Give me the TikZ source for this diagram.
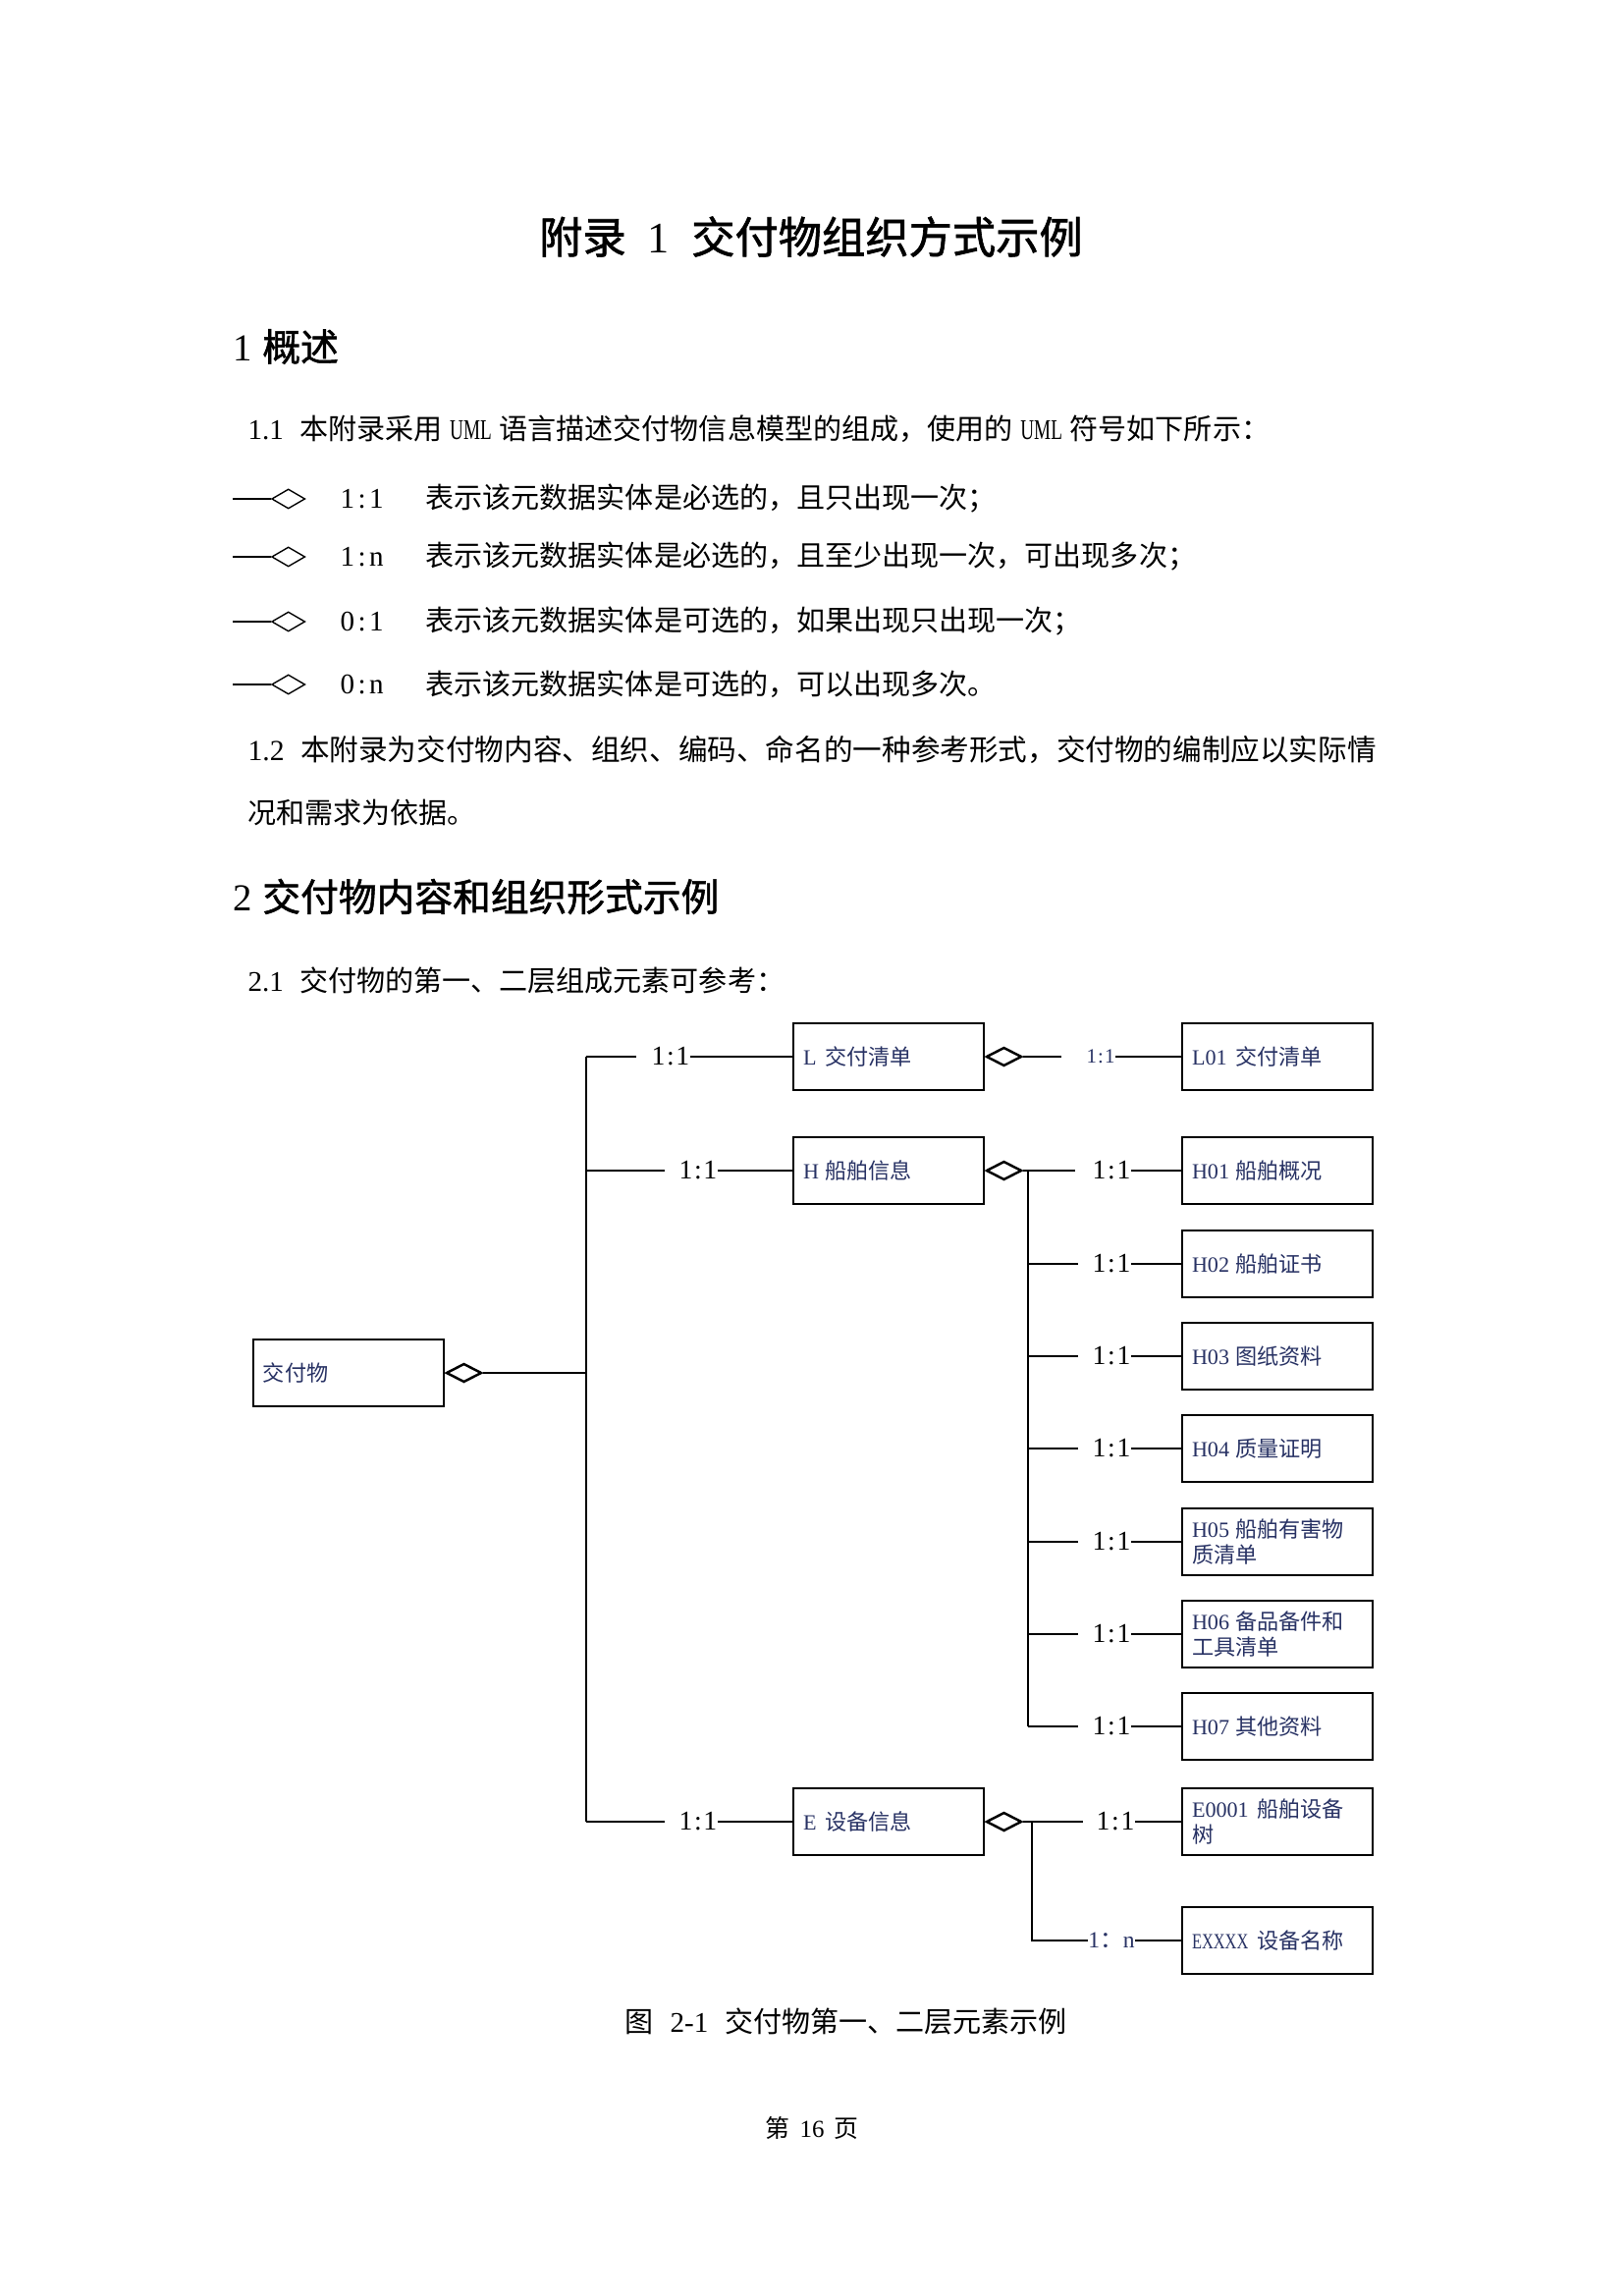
\documentclass[tikz,border=0pt]{standalone}
\usepackage{graphicx}
\usepackage{fontspec}
\setmainfont{Noto Sans CJK SC}
\newfontfamily\headfont{Noto Sans CJK SC}[FakeBold=1.4]
\newfontfamily\lat{Liberation Serif}
\usetikzlibrary{shapes.geometric}
\definecolor{boxtext}{RGB}{40,50,100}
\newcommand\codebox[2]{\makebox[#1em][l]{\lat #2}}
\newcommand\umlword{\makebox[2em][c]{\lat\scalebox{0.66}[1]{UML}}}
\begin{document}
\begin{tikzpicture}[x=0.127mm,y=-0.127mm,
  txt/.style={anchor=west, inner sep=0pt, font=\fontsize{10.5pt}{12pt}\selectfont},
  head/.style={anchor=west, inner sep=0pt, font=\headfont\fontsize{14pt}{16pt}\selectfont},
  box/.style={draw, line width=0.9pt, minimum width=24.64mm, minimum height=8.64mm,
    text width=22.1mm, inner xsep=1.27mm, inner ysep=0pt, align=left, text=boxtext,
    font=\fontsize{8pt}{9.6pt}\selectfont},
  agg/.style={diamond, draw, line width=0.9pt, minimum width=4.57mm, minimum height=2.41mm,
    inner sep=0pt, anchor=west, fill=white},
  legagg/.style={diamond, draw, line width=0.5pt, minimum width=4.32mm, minimum height=2.54mm,
    inner sep=0pt, anchor=west, fill=white},
  legline/.style={line width=0.5pt},
  conn/.style={line width=0.9pt},
  mult/.style={inner sep=0pt, font=\lat\fontsize{10pt}{12pt}\selectfont},
  smallmult/.style={inner sep=0pt, text=boxtext, font=\lat\fontsize{7.5pt}{9pt}\selectfont},
  nmult/.style={inner sep=0pt, text=boxtext, font=\fontsize{8.5pt}{10pt}\selectfont}
]
\fill[white] (0,0) rectangle (1653,2338);
\useasboundingbox (0,0) rectangle (1653,2338);

% ---------- text ----------
\node[inner sep=0pt, font=\headfont\fontsize{16pt}{18pt}\selectfont] (title) at (826,241)
  {附录\makebox[1.5em][c]{\lat 1}交付物组织方式示例};
\node[head] (h1) at (237,353) {\makebox[0.77em][l]{\lat 1}概述};
\node[txt] (p11) at (252,437) {\makebox[1.81em][l]{\lat 1.1}本附录采用\umlword 语言描述交付物信息模型的组成，使用的\umlword 符号如下所示：};

\foreach \yy/\la/\lb/\desc [count=\i] in {
  508/1/1/表示该元数据实体是必选的，且只出现一次；,
  567/1/n/表示该元数据实体是必选的，且至少出现一次，可出现多次；,
  633/0/1/表示该元数据实体是可选的，如果出现只出现一次；,
  697/0/n/表示该元数据实体是可选的，可以出现多次。}{
  \coordinate (lg\i) at (237,\yy);
  \node[legagg] (ld\i) at (276,\yy) {};
  \draw[legline] (lg\i) -- (ld\i.west);
  \node[txt, font=\lat\fontsize{10.5pt}{12pt}\selectfont] (ll\i) at (346,\yy) {\la\kern.12em:\kern.12em\lb};
  \node[txt] (lt\i) at (433,\yy) {\desc};
}

\node[txt, font=\fontsize{10.7pt}{12pt}\selectfont] (p12) at (252,763) {\makebox[1.81em][l]{\lat 1.2}本附录为交付物内容、组织、编码、命名的一种参考形式，交付物的编制应以实际情};
\node[txt] (p12b) at (252,828) {况和需求为依据。};
\node[head] (h2) at (237,913) {\makebox[0.77em][l]{\lat 2}交付物内容和组织形式示例};
\node[txt] (p21) at (252,998) {\makebox[1.81em][l]{\lat 2.1}交付物的第一、二层组成元素可参考：};

% ---------- diagram ----------
\node[box] (root) at (355,1398) {交付物};
\node[box] (L) at (905,1076) {\codebox{1}{L}交付清单};
\node[box] (H) at (905,1192) {\codebox{1}{H}船舶信息};
\node[box] (E) at (905,1855) {\codebox{1}{E}设备信息};

\node[box] (L01) at (1301,1076) {\codebox{2}{L01}交付清单};
\node[box] (H01) at (1301,1192) {\codebox{2}{H01}船舶概况};
\node[box] (H02) at (1301,1287) {\codebox{2}{H02}船舶证书};
\node[box] (H03) at (1301,1381) {\codebox{2}{H03}图纸资料};
\node[box] (H04) at (1301,1475) {\codebox{2}{H04}质量证明};
\node[box] (H05) at (1301,1570) {\codebox{2}{H05}船舶有害物\\质清单};
\node[box] (H06) at (1301,1664) {\codebox{2}{H06}备品备件和\\工具清单};
\node[box] (H07) at (1301,1758) {\codebox{2}{H07}其他资料};
\node[box] (E1) at (1301,1855) {\codebox{3}{E0001}船舶设备\\树};
\node[box] (EX) at (1301,1976) {\codebox{3}{\scalebox{0.74}[1]{EXXXX}}设备名称};

% main vertical bus
\coordinate (vtop) at (597,1076);
\coordinate (vH) at (597,1192);
\coordinate (vroot) at (597,1398);
\coordinate (vbot) at (597,1855);
\draw[conn] (vtop) -- (vbot);

% root aggregation
\node[agg] (rd) at (root.east) {};
\draw[conn] (rd.east) -- (vroot);

% L row
\coordinate (sL) at (648,1076);
\draw[conn] (vtop) -- (sL);
\node[mult] (mL) at (683,1076) {1\kern.06em:\kern.06em1};
\draw[conn] (mL.east) -- (L.west);
% H row
\coordinate (sH) at (677,1192);
\draw[conn] (vH) -- (sH);
\node[mult] (mH) at (711,1192) {1\kern.06em:\kern.06em1};
\draw[conn] (mH.east) -- (H.west);
% E row
\coordinate (sE) at (677,1855);
\draw[conn] (vbot) -- (sE);
\node[mult] (mE) at (711,1855) {1\kern.06em:\kern.06em1};
\draw[conn] (mE.east) -- (E.west);

% L -> L01
\node[agg] (Ld) at (L.east) {};
\coordinate (sL01) at (1081,1076);
\draw[conn] (Ld.east) -- (sL01);
\node[smallmult] (mL01) at (1121,1076) {1\kern.06em:\kern.06em1};
\draw[conn] (mL01.east) -- (L01.west);

% H -> H01..H07
\node[agg] (Hd) at (H.east) {};
\coordinate (hv1) at (1047,1192);
\coordinate (hv7) at (1047,1758);
\draw[conn] (hv1) -- (hv7);
\coordinate (sH01) at (1095,1192);
\draw[conn] (Hd.east) -- (sH01);
\node[mult] (mH01) at (1132,1192) {1\kern.06em:\kern.06em1};
\draw[conn] (mH01.east) -- (H01.west);
\foreach \k/\yy in {02/1287,03/1381,04/1475,05/1570,06/1664,07/1758}{
  \coordinate (hvb\k) at (1047,\yy);
  \coordinate (sH\k) at (1098,\yy);
  \draw[conn] (hvb\k) -- (sH\k);
  \node[mult] (mH\k) at (1132,\yy) {1\kern.06em:\kern.06em1};
  \draw[conn] (mH\k.east) -- (H\k.west);
}

% E -> E0001, EXXXX
\node[agg] (Ed) at (E.east) {};
\coordinate (ev1) at (1051,1855);
\coordinate (ev2) at (1051,1976);
\coordinate (sE1) at (1103,1855);
\draw[conn] (Ed.east) -- (sE1);
\node[mult] (mE1) at (1136,1855) {1\kern.06em:\kern.06em1};
\draw[conn] (mE1.east) -- (E1.west);
\node[nmult] (mEX) at (1132,1976) {{\lat 1}：{\lat n}};
\draw[conn] (ev1) -- (ev2) -- (mEX.west);
\draw[conn] (mEX.east) -- (EX.west);

% caption and page number
\node[txt] (cap) at (636,2058) {图\makebox[2.5em][c]{\lat 2-1}交付物第一、二层元素示例};
\node[inner sep=0pt, font=\fontsize{9pt}{10pt}\selectfont] (pg) at (827,2167) {第\makebox[1.8em][c]{\lat 16}页};
\end{tikzpicture}
\end{document}
